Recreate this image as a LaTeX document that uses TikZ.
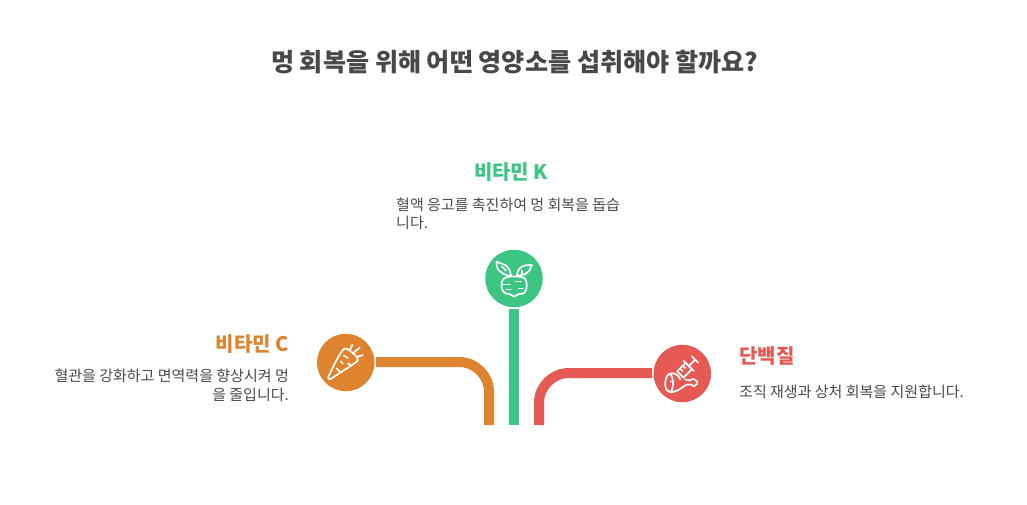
\documentclass[tikz,border=0pt]{standalone}
\usepackage{fontspec}
\setmainfont{Noto Sans CJK KR}
\definecolor{tgreen}{HTML}{3CC583}
\definecolor{torange}{HTML}{DE8431}
\definecolor{tred}{HTML}{E55A55}
\definecolor{ttext}{HTML}{484848}
\definecolor{tbody}{HTML}{4A4A4A}
\tikzset{
  x=1pt,y=-1pt,
  hub/.style={circle,minimum size=57.5pt,inner sep=0pt},
  wire/.style={line width=10pt},
  icon/.style={draw=white,line width=1.7pt,line cap=round,line join=round,fill=none},
  titletext/.style={font=\bfseries\fontsize{25.1}{29}\selectfont,text=ttext},
  headtext/.style={font=\bfseries\fontsize{20}{24}\selectfont},
  bodytext/.style={font=\fontsize{15}{18.7}\selectfont,text=tbody},
}
\begin{document}
\begin{tikzpicture}
\useasboundingbox (0,0) rectangle (1027,504);
\fill[white] (0,0) rectangle (1027,504);
\node[titletext,anchor=center] (title) at (514.5,62) {멍 회복을 위해 어떤 영양소를 섭취해야 할까요?};

\node[hub,fill=tgreen] (k) at (514,278.5) {};
\node[hub,fill=torange] (c) at (345.8,362.5) {};
\node[hub,fill=tred] (p) at (682.3,373.5) {};
\coordinate (kend) at (514,425);
\coordinate (cend) at (489,425);
\coordinate (pend) at (539,425);

\draw[wire,tgreen] (514,309) -- (kend);
\draw[wire,torange] (376,362) -- (459,362) arc[start angle=-90,end angle=0,radius=30] -- (cend);
\draw[wire,tred] (652,373) -- (569,373) arc[start angle=270,end angle=180,radius=30] -- (pend);

\node[headtext,text=tgreen,anchor=center] (kh) at (511,172) {비타민 K};
\node[bodytext,anchor=north west,align=left,inner sep=0pt] (kb) at (396,197.5) {혈액 응고를 촉진하여 멍 회복을 돕습\\니다.};
\node[headtext,text=torange,anchor=east,inner sep=0pt] (ch) at (289,344.5) {비타민 C};
\node[bodytext,anchor=north east,align=right,inner sep=0pt] (cb) at (289,369) {혈관을 강화하고 면역력을 향상시켜 멍\\을 줄입니다.};
\node[headtext,text=tred,anchor=west,inner sep=0pt] (ph) at (739,356) {단백질};
\node[bodytext,anchor=north west,inner sep=0pt] (pb) at (739,384.5) {조직 재생과 상처 회복을 지원합니다.};

% beet icon
\begin{scope}[shift={(k.center)}]
\draw[icon] (-8,-1) .. controls (-14,0) and (-14,13) .. (-8,15) .. controls (-5,16) and (-3,15) .. (-1,17.5) .. controls (0,18.5) and (1,18.5) .. (2,17) .. controls (3,15) and (6,16) .. (9,15) .. controls (14,13) and (14,0) .. (9,-1) .. controls (4,-2.5) and (-4,-2.5) .. (-8,-1);
\draw[icon] (-12,6) -- (-4,6) (2,3) -- (7,3) (-8,11) -- (-3,11) (5,10) -- (9,10);
\draw[icon] (-3,-3) .. controls (-4,-8) and (-5,-11) .. (-8,-13) .. controls (-11,-15) and (-14,-15) .. (-17.5,-17) .. controls (-17.5,-13) and (-17,-9) .. (-14,-7) .. controls (-11,-5) and (-7,-2) .. (-3,-3);
\draw[icon] (-12,-12) -- (-8,-8);
\draw[icon] (3,-3) .. controls (3,-7) and (5,-10) .. (8,-12) .. controls (12,-14) and (15,-13) .. (18,-13.5) .. controls (16,-9) and (15,-6) .. (12,-5) .. controls (8,-3) and (6,-3) .. (3,-3);
\draw[icon] (8,-8) -- (8,-5);
\end{scope}

% carrot icon
\begin{scope}[shift={(c.center)}]
\draw[icon] (-17.5,14.5) .. controls (-13,5) and (-8,-6) .. (-3,-12.5) .. controls (-1,-15) and (2,-14) .. (4,-12) .. controls (6,-10) and (13,-6) .. (12,-2) .. controls (11,0) and (-6,10) .. (-15,16.5) .. controls (-17,17.5) and (-18,16) .. (-17.5,14.5) -- cycle;
\draw[icon] (4,-12.5) -- (6.5,-17.5) (7,-9) -- (14,-15) (11,-5.5) -- (17,-7.5);
\draw[icon] (-2,-7) -- (2,-4.5) (-5,-1) -- (-3,1) (-9,6) -- (-6,9) (2,1) -- (5,2.5);
\end{scope}

% meat and syringe icon
\begin{scope}[shift={(p.center)}]
\draw[icon] (-12,0) .. controls (-17,1) and (-19,13) .. (-15,17) .. controls (-12,20) and (-8,18) .. (-5,17) .. controls (-1,15) and (2,12) .. (5,11) -- (9,11) .. controls (10,13) and (13,14) .. (13.5,11.5) .. controls (16,10) and (15,6.5) .. (13,6.5) .. controls (12,4.5) and (9,5) .. (8,7) -- (3,6);
\draw[icon] (-12,0) .. controls (-8,-1) and (-4,1) .. (-2,6);
\draw[icon] (-12,0) .. controls (-9,4) and (-8,12) .. (-11,18);
\fill[white] (-11.5,8) circle (1.1pt);
\begin{scope}[shift={(-2,1)},rotate=45]
\draw[icon] (0,-4.5) -- (12,-4.5) -- (12,4.5) -- (0,4.5) -- cycle;
\draw[icon] (12,-7) -- (12,7) (12,0) -- (21,0) (21,-4.5) -- (21,4.5);
\draw[icon] (4,-4.5) -- (4,-1) (8,-4.5) -- (8,-1);
\end{scope}
\end{scope}
\end{tikzpicture}
\end{document}
